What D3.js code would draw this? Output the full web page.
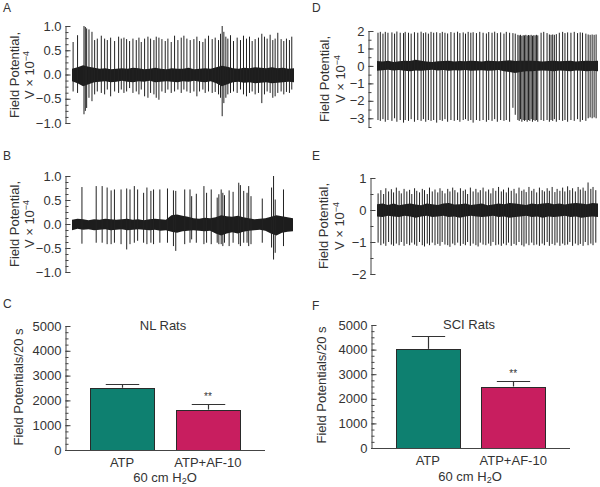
<!DOCTYPE html>
<html>
<head>
<meta charset="utf-8">
<script src="https://cdn.jsdelivr.net/npm/d3@7"></script>
<style>
  html, body { margin: 0; padding: 0; background: #fff; }
  svg { display: block; }
  text { font-family: "Liberation Sans", Arial, sans-serif; fill: #333; }
</style>
</head>
<body>
<div id="chart"></div>
<script>
// ---------------- DATA ----------------
// Sample times (s) of the baseline-noise envelope
const bandTimes = [0,0.5,1,1.5,2,2.5,3,3.5,4,4.5,5,5.5,6,6.5,7,7.5,8,8.5,9,9.5,10,10.5,11,11.5,12,12.5,13,13.5,14,14.5,15,15.5,16,16.5,17,17.5,18,18.5,19,19.5,20];

// Panel A (NL rats, ATP): spikes [time s, peak, trough] in V x 10^-4
const spikesA = [[0.1,0.67,-0.35],[0.5,0.81,-0.38],[1.08,1.0,-0.82],[1.2,0.98,-0.75],[1.32,0.95,-0.69],[1.53,0.93,-0.48],[1.8,0.88,-0.55],[2.04,0.71,-0.41],[2.28,0.74,-0.35],[2.64,0.80,-0.38],[2.94,0.74,-0.41],[3.18,0.71,-0.31],[3.48,0.76,-0.45],[3.84,0.69,-0.35],[4.2,0.78,-0.38],[4.44,0.74,-0.31],[4.68,0.76,-0.38],[4.92,0.73,-0.35],[5.19,0.69,-0.28],[5.49,0.74,-0.38],[5.79,0.71,-0.35],[6.03,0.76,-0.41],[6.24,0.67,-0.31],[6.54,0.74,-0.45],[6.84,0.78,-0.48],[7.08,0.74,-0.38],[7.38,0.71,-0.41],[7.59,0.78,-0.48],[7.83,0.76,-0.52],[8.1,0.73,-0.35],[8.4,0.69,-0.38],[8.64,0.74,-0.31],[8.94,0.67,-0.38],[9.24,0.80,-0.35],[9.54,0.71,-0.31],[9.84,0.76,-0.38],[10.08,0.80,-0.31],[10.35,0.74,-0.35],[10.65,0.71,-0.38],[10.98,0.73,-0.35],[11.25,0.78,-0.45],[11.49,0.69,-0.35],[11.79,0.67,-0.31],[12.0,0.74,-0.38],[12.3,0.80,-0.35],[12.63,0.73,-0.38],[12.9,0.76,-0.36],[13.2,0.71,-0.41],[13.38,0.84,-0.48],[13.53,1.0,-0.86],[13.68,0.88,-0.59],[13.86,0.78,-0.48],[14.04,0.74,-0.41],[14.28,0.81,-0.38],[14.55,0.69,-0.35],[14.88,0.76,-0.38],[15.18,0.71,-0.31],[15.45,0.80,-0.41],[15.72,0.74,-0.45],[15.99,0.78,-0.38],[16.23,0.69,-0.35],[16.5,0.73,-0.41],[16.8,0.76,-0.38],[17.1,0.84,-0.59],[17.34,0.78,-0.41],[17.58,0.74,-0.35],[17.85,0.82,-0.38],[18.09,0.71,-0.48],[18.3,0.74,-0.45],[18.54,0.86,-0.38],[18.84,0.73,-0.35],[19.08,0.69,-0.41],[19.32,0.74,-0.36],[19.59,0.71,-0.38],[19.8,0.78,-0.31]];
const bandHiA = [0.12,0.15,0.19,0.16,0.14,0.12,0.13,0.11,0.12,0.13, 0.12,0.14,0.13,0.11,0.12,0.14,0.12,0.11,0.13,0.12, 0.12,0.14,0.11,0.12,0.13,0.12,0.15,0.18,0.16,0.13, 0.12,0.14,0.13,0.15,0.14,0.13,0.15,0.13,0.14,0.12, 0.13];
const bandLoA = [-0.14,-0.18,-0.24,-0.2,-0.16,-0.15,-0.14,-0.16,-0.15,-0.13, -0.15,-0.16,-0.14,-0.15,-0.13,-0.16,-0.15,-0.14,-0.15,-0.16, -0.14,-0.15,-0.13,-0.15,-0.16,-0.14,-0.18,-0.24,-0.2,-0.16, -0.15,-0.17,-0.16,-0.18,-0.17,-0.16,-0.18,-0.17,-0.16,-0.15, -0.16];

// Panel B (NL rats, ATP + AF-10)
const spikesB = [[0.9,0.77,-0.41],[2.19,0.79,-0.39],[2.73,0.79,-0.39],[3.18,0.76,-0.42],[3.54,0.70,-0.42],[3.84,0.72,-0.39],[4.44,0.72,-0.42],[4.95,0.74,-0.53],[5.25,0.72,-0.42],[5.64,0.79,-0.39],[5.94,0.72,-0.35],[6.48,0.65,-0.39],[6.78,0.76,-0.42],[7.14,0.69,-0.39],[7.38,0.72,-0.42],[7.95,0.72,-0.39],[8.64,0.74,-0.39],[9.18,0.70,-0.46],[9.39,0.69,-0.56],[10.2,0.72,-0.42],[10.68,0.72,-0.39],[10.83,0.58,-0.32],[11.25,0.63,-0.39],[11.94,0.79,-0.42],[12.18,0.65,-0.39],[12.6,0.72,-0.42],[13.14,0.55,-0.39],[13.29,0.62,-0.42],[13.5,0.72,-0.42],[13.65,0.65,-0.46],[13.8,0.60,-0.39],[14.22,0.70,-0.46],[14.58,0.67,-0.39],[15.09,0.86,-0.42],[15.24,0.81,-0.46],[15.54,0.69,-0.39],[15.84,0.65,-0.39],[15.99,0.79,-0.46],[16.2,0.58,-0.42],[17.22,0.53,-0.39],[18.06,0.76,-0.49],[18.24,1.0,-0.74],[18.39,0.51,-0.60],[19.14,0.72,-0.46]];
const bandHiB = [0.09,0.11,0.1,0.08,0.1,0.09,0.11,0.1,0.09,0.1, 0.11,0.09,0.1,0.08,0.1,0.11,0.1,0.09,0.18,0.2, 0.17,0.15,0.12,0.11,0.13,0.12,0.14,0.18,0.16,0.15, 0.17,0.14,0.12,0.1,0.11,0.12,0.15,0.18,0.16,0.14, 0.12];
const bandLoB = [-0.13,-0.1,-0.12,-0.11,-0.13,-0.12,-0.11,-0.13,-0.12,-0.11, -0.13,-0.12,-0.11,-0.12,-0.13,-0.12,-0.14,-0.13,-0.16,-0.18, -0.15,-0.14,-0.13,-0.14,-0.15,-0.14,-0.2,-0.24,-0.2,-0.17, -0.2,-0.16,-0.14,-0.13,-0.12,-0.14,-0.2,-0.24,-0.18,-0.16, -0.15];

// Panel D (SCI rats, ATP)
const spikesD = [[0.09,1.9,-3.1],[0.3,1.95,-3.15],[0.54,1.85,-3.05],[0.75,1.95,-3.2],[0.99,1.9,-3.1],[1.35,1.92,-3.15],[1.59,1.85,-3.0],[1.8,1.97,-3.2],[2.1,1.9,-3.1],[2.4,1.88,-3.25],[2.55,1.95,-3.1],[2.85,1.9,-3.15],[3.09,1.85,-3.05],[3.39,1.93,-3.2],[3.69,1.9,-3.1],[3.99,1.96,-3.15],[4.2,1.88,-3.05],[4.41,1.92,-3.2],[4.65,1.85,-3.1],[4.89,1.95,-3.15],[5.13,1.9,-3.1],[5.4,1.93,-3.25],[5.7,1.88,-3.1],[5.91,1.95,-3.15],[6.15,1.9,-3.05],[6.39,1.86,-3.2],[6.69,1.94,-3.1],[6.99,1.9,-3.15],[7.29,1.96,-3.1],[7.5,1.88,-3.2],[7.8,1.92,-3.1],[8.01,1.85,-3.05],[8.25,1.95,-3.15],[8.49,1.9,-3.1],[8.7,1.93,-3.25],[9.0,1.88,-3.1],[9.3,1.95,-3.15],[9.6,1.9,-3.1],[9.9,1.86,-3.2],[10.11,1.94,-3.1],[10.41,1.9,-3.15],[10.65,1.96,-3.05],[10.89,1.88,-3.2],[11.19,1.92,-3.1],[11.49,1.85,-3.15],[11.7,1.95,-3.1],[12.0,1.9,-3.2],[12.3,1.88,-2.4],[12.51,1.85,-2.8],[12.75,1.78,-3.1],[12.87,1.75,-3.15],[12.99,1.78,-3.05],[13.11,1.72,-3.2],[13.23,1.76,-3.1],[13.35,1.75,-3.15],[13.47,1.78,-3.1],[13.59,1.74,-3.2],[13.71,1.77,-3.1],[13.83,1.75,-3.15],[13.95,1.78,-3.05],[14.07,1.73,-3.2],[14.19,1.76,-3.1],[14.31,1.75,-3.15],[14.43,1.78,-3.1],[14.55,1.75,-3.2],[14.85,1.9,-3.1],[15.09,1.95,-3.15],[15.39,1.88,-3.1],[15.6,1.8,-3.2],[15.75,1.78,-3.1],[15.9,1.8,-3.15],[16.05,1.78,-3.05],[16.23,1.82,-3.2],[16.5,1.9,-3.1],[16.8,1.95,-3.15],[17.01,1.88,-3.1],[17.25,1.92,-3.2],[17.55,1.9,-3.1],[17.85,1.95,-3.15],[18.15,1.88,-3.05],[18.39,1.92,-3.2],[18.6,1.9,-3.1],[18.9,1.85,-3.15],[19.11,1.8,-3.0],[19.29,1.78,-2.95],[19.47,1.8,-3.0],[19.65,1.78,-2.95],[19.83,1.8,-3.0]];
const bandHiD = [0.28,0.25,0.3,0.22,0.26,0.3,0.28,0.35,0.3,0.25, 0.22,0.26,0.28,0.3,0.25,0.28,0.26,0.3,0.28,0.25, 0.3,0.28,0.26,0.3,0.32,0.28,0.3,0.3,0.3,0.28, 0.25,0.28,0.3,0.26,0.28,0.3,0.25,0.28,0.3,0.28, 0.3];
const bandLoD = [-0.28,-0.25,-0.22,-0.26,-0.24,-0.28,-0.3,-0.26,-0.28,-0.25, -0.22,-0.26,-0.24,-0.28,-0.25,-0.26,-0.24,-0.28,-0.26,-0.25, -0.28,-0.26,-0.24,-0.3,-0.35,-0.4,-0.35,-0.3,-0.3,-0.28, -0.26,-0.28,-0.3,-0.26,-0.28,-0.3,-0.26,-0.28,-0.3,-0.28, -0.3];

// Panel E (SCI rats, ATP + AF-10)
const spikesE = [[0.1,0.52,-1.02],[0.35,0.62,-1.1],[0.6,0.5,-1.05],[0.8,0.68,-1.12],[1.05,0.58,-1.0],[1.3,0.65,-1.08],[1.5,0.55,-1.12],[1.75,0.7,-1.05],[2.0,0.6,-1.1],[2.2,0.52,-1.0],[2.45,0.66,-1.12],[2.7,0.58,-1.06],[2.95,0.63,-1.1],[3.15,0.5,-1.02],[3.4,0.68,-1.08],[3.6,0.6,-1.12],[3.85,0.55,-1.0],[4.1,0.66,-1.1],[4.3,0.62,-1.14],[4.55,0.5,-1.05],[4.75,0.7,-1.1],[5.0,0.58,-1.02],[5.25,0.64,-1.1],[5.5,0.55,-1.06],[5.7,0.68,-1.12],[5.9,0.6,-1.0],[6.15,0.52,-1.08],[6.4,0.66,-1.1],[6.6,0.58,-1.15],[6.85,0.7,-1.05],[7.05,0.62,-1.1],[7.3,0.55,-1.02],[7.55,0.68,-1.12],[7.8,0.6,-1.06],[8.0,0.64,-1.1],[8.2,0.5,-1.0],[8.45,0.7,-1.12],[8.7,0.58,-1.05],[8.95,0.66,-1.1],[9.15,0.55,-1.14],[9.35,0.62,-1.02],[9.6,0.7,-1.08],[9.85,0.58,-1.1],[10.1,0.64,-1.05],[10.3,0.52,-1.12],[10.5,0.68,-1.0],[10.75,0.6,-1.1],[11.0,0.72,-1.08],[11.25,0.58,-1.12],[11.45,0.64,-1.05],[11.7,0.55,-1.1],[11.9,0.7,-1.02],[12.15,0.6,-1.12],[12.4,0.66,-1.06],[12.6,0.52,-1.1],[12.85,0.7,-1.0],[13.1,0.6,-1.1],[13.3,0.64,-1.14],[13.5,0.56,-1.05],[13.75,0.72,-1.1],[14.0,0.6,-1.02],[14.2,0.66,-1.1],[14.45,0.55,-1.08],[14.7,0.7,-1.12],[14.95,0.62,-1.05],[15.15,0.58,-1.1],[15.4,0.68,-1.0],[15.6,0.6,-1.12],[15.85,0.72,-1.06],[16.1,0.56,-1.1],[16.3,0.66,-1.02],[16.55,0.6,-1.12],[16.8,0.7,-1.05],[17.0,0.58,-1.1],[17.25,0.74,-1.08],[17.45,0.62,-1.0],[17.7,0.68,-1.12],[17.95,0.58,-1.05],[18.2,0.72,-1.1],[18.4,0.64,-1.06],[18.65,0.7,-1.12],[18.85,0.6,-1.0],[19.1,0.86,-1.1],[19.35,0.66,-1.05],[19.55,0.72,-1.1],[19.8,0.62,-1.02]];
const bandHiE = [0.18,0.2,0.16,0.2,0.15,0.18,0.2,0.17,0.15,0.2, 0.18,0.16,0.2,0.22,0.17,0.18,0.2,0.16,0.18,0.2, 0.15,0.17,0.2,0.18,0.22,0.2,0.18,0.16,0.2,0.18, 0.2,0.22,0.18,0.2,0.17,0.2,0.22,0.2,0.18,0.22, 0.2];
const bandLoE = [-0.2,-0.22,-0.18,-0.2,-0.22,-0.18,-0.2,-0.24,-0.2,-0.18, -0.22,-0.2,-0.18,-0.22,-0.2,-0.24,-0.2,-0.18,-0.2,-0.22, -0.2,-0.18,-0.22,-0.2,-0.24,-0.22,-0.2,-0.18,-0.22,-0.2, -0.24,-0.2,-0.22,-0.2,-0.18,-0.22,-0.2,-0.24,-0.22,-0.2, -0.22];

// Tick labels for trace panels
const ticksAB = [1.0, 0.5, 0.0, -0.5, -1.0];
const ticksD = [2, 1, 0, -1, -2, -3];
const ticksE = [1, 0, -1, -2];

// Bar panels
const barCategories = ["ATP", "ATP+AF-10"];
const nlMeans = [2510, 1630];
const nlErrors = [170, 240];
const sciMeans = [4030, 2500];
const sciErrors = [520, 230];
const barTicks = [0, 1000, 2000, 3000, 4000, 5000];
const barColors = ["#0e8070", "#c81e5f"];

// ---------------- DRAWING ----------------
const W = 600, H = 487;
const FONT = '"Liberation Sans", Arial, sans-serif';
const svg = d3.select("#chart").append("svg").attr("width", W).attr("height", H);
const AX = "#444";

function range(a, b, s) { const r = []; for (let v = a; v <= b + 1e-9; v += s) r.push(+v.toFixed(4)); return r; }

function yAxis(y, axisX, major, minor, fmt) {
  const gMinor = svg.append("g").attr("transform", `translate(${axisX + 0.5},0)`)
    .call(d3.axisLeft(y).tickValues(minor).tickSizeInner(-3).tickSizeOuter(0).tickFormat(""));
  gMinor.select(".domain").remove();
  const gMajor = svg.append("g").attr("transform", `translate(${axisX + 0.5},0)`)
    .call(d3.axisLeft(y).tickValues(major).tickSizeInner(-5).tickSizeOuter(0).tickPadding(4).tickFormat(fmt));
  [gMinor, gMajor].forEach(g => {
    g.attr("font-size", 13).attr("font-family", FONT);
    g.selectAll("path, line").attr("stroke", AX);
    g.selectAll("text").style("font-size", "13px").attr("fill", "#333");
  });
}

function panelLetter(x, y, s) {
  svg.append("text").attr("x", x).attr("y", y).attr("font-size", 12).text(s);
}

function traceYLabel(x1, x2, cy) {
  svg.append("text").attr("transform", `translate(${x1},${cy}) rotate(-90)`)
    .attr("text-anchor", "middle").attr("font-size", 13).text("Field Potential,");
  const t = svg.append("text").attr("transform", `translate(${x2},${cy}) rotate(-90)`)
    .attr("text-anchor", "middle").attr("font-size", 13);
  t.append("tspan").text("V × 10");
  t.append("tspan").attr("dy", -5).attr("font-size", 9).text("−4");
}

function drawTrace(cfg) {
  const g = svg.append("g");
  const x = d3.scaleLinear().domain([0, 20]).range([cfg.x0, cfg.x1]);
  const y = d3.scaleLinear().domain(cfg.yDomain).range([cfg.yBottom, cfg.yTop]);
  const area = d3.area()
    .x((d, i) => x(bandTimes[i]))
    .y0((d, i) => y(cfg.lo[i]))
    .y1((d, i) => y(cfg.hi[i]));
  g.append("path").datum(cfg.hi).attr("d", area).attr("fill", "#1d1d1d");
  g.selectAll("line.spike").data(cfg.spikes).enter().append("line")
    .attr("class", "spike")
    .attr("x1", d => x(d[0])).attr("x2", d => x(d[0]))
    .attr("y1", d => y(d[1])).attr("y2", d => y(d[2]))
    .attr("stroke", "#222").attr("stroke-width", 1);
  yAxis(y, cfg.axisX, cfg.major, cfg.minor, cfg.fmt);
}

drawTrace({ x0: 72, x1: 294, yDomain: [-1, 1], yBottom: 123, yTop: 26, axisX: 65,
  spikes: spikesA, hi: bandHiA, lo: bandLoA, major: ticksAB, minor: range(-1, 1, 0.125), fmt: d3.format(".1f") });
drawTrace({ x0: 72, x1: 293, yDomain: [-1, 1], yBottom: 272, yTop: 176, axisX: 65,
  spikes: spikesB, hi: bandHiB, lo: bandLoB, major: ticksAB, minor: range(-1, 1, 0.125), fmt: d3.format(".1f") });
drawTrace({ x0: 377, x1: 598, yDomain: [-3.5, 2], yBottom: 127, yTop: 31, axisX: 368,
  spikes: spikesD, hi: bandHiD, lo: bandLoD, major: ticksD, minor: range(-3.5, 2, 0.5), fmt: d3.format("d") });
drawTrace({ x0: 377, x1: 598, yDomain: [-2, 1], yBottom: 274, yTop: 178, axisX: 370,
  spikes: spikesE, hi: bandHiE, lo: bandLoE, major: ticksE, minor: range(-2, 1, 0.5), fmt: d3.format("d") });

traceYLabel(19, 34, 75);
traceYLabel(19, 34, 224);
traceYLabel(329, 345, 79);
traceYLabel(328, 344, 226);

panelLetter(3, 12, "A");
panelLetter(3, 160, "B");
panelLetter(3, 308, "C");
panelLetter(312, 12, "D");
panelLetter(312, 160, "E");
panelLetter(312, 310, "F");

function drawBars(cfg) {
  const g = svg.append("g");
  const x = d3.scaleBand().domain(barCategories).range([cfg.axisX, cfg.xEnd]).paddingInner(0.25).paddingOuter(0.29);
  const y = d3.scaleLinear().domain([0, 5000]).range([cfg.y0, cfg.y1]);
  const data = barCategories.map((c, i) => ({ c, m: cfg.means[i], e: cfg.errors[i], col: barColors[i] }));
  const capW = x.bandwidth() * 0.52;
  data.forEach(d => {
    const cx = Math.round(x(d.c) + x.bandwidth() / 2) + 0.5;
    const ty = Math.round(y(d.m + d.e)) + 0.5;
    g.append("line").attr("x1", cx).attr("x2", cx).attr("y1", y(d.m)).attr("y2", ty)
      .attr("stroke", "#333").attr("stroke-width", 1.2);
    g.append("line").attr("x1", cx - capW / 2).attr("x2", cx + capW / 2).attr("y1", ty).attr("y2", ty)
      .attr("stroke", "#333").attr("stroke-width", 1.2);
  });
  g.selectAll("rect").data(data).enter().append("rect")
    .attr("x", d => Math.round(x(d.c)) + 0.5).attr("width", Math.round(x.bandwidth()))
    .attr("y", d => Math.round(y(d.m)) + 0.5).attr("height", d => Math.round(cfg.y0) - Math.round(y(d.m)))
    .attr("fill", d => d.col).attr("stroke", "#2a2a2a").attr("stroke-width", 1);
  g.append("line").attr("x1", cfg.axisX).attr("x2", cfg.xEnd).attr("y1", cfg.y0 + 0.5).attr("y2", cfg.y0 + 0.5)
    .attr("stroke", AX);
  yAxis(y, cfg.axisX, barTicks, range(0, 5000, 250), d3.format("d"));
  const last = data[1];
  svg.append("text").attr("x", x(last.c) + x.bandwidth() / 2).attr("y", y(last.m + last.e) - 4)
    .attr("text-anchor", "middle").attr("font-size", 10).text("**");
  data.forEach(d => {
    svg.append("text").attr("x", x(d.c) + x.bandwidth() / 2).attr("y", cfg.labelY)
      .attr("text-anchor", "middle").attr("font-size", 13).text(d.c);
  });
  svg.append("text").attr("x", cfg.titleX).attr("y", cfg.titleY).attr("text-anchor", "middle")
    .attr("font-size", 13).text(cfg.title);
  const t = svg.append("text").attr("x", cfg.xTitleX).attr("y", cfg.xTitleY).attr("text-anchor", "middle").attr("font-size", 13);
  t.append("tspan").text("60 cm H");
  t.append("tspan").attr("dy", 2).attr("font-size", 9).text("2");
  t.append("tspan").attr("dy", -2).text("O");
  svg.append("text").attr("transform", `translate(${cfg.yTitleX},${cfg.yTitleY}) rotate(-90)`)
    .attr("text-anchor", "middle").attr("font-size", 13).text("Field Potentials/20 s");
}

drawBars({ axisX: 65, xEnd: 265, y0: 450, y1: 326, means: nlMeans, errors: nlErrors,
  labelY: 467, title: "NL Rats", titleX: 163, titleY: 330, xTitleX: 165, xTitleY: 482, yTitleX: 23, yTitleY: 387 });
drawBars({ axisX: 371, xEnd: 570, y0: 448, y1: 325, means: sciMeans, errors: sciErrors,
  labelY: 465, title: "SCI Rats", titleX: 469, titleY: 329, xTitleX: 470, xTitleY: 481, yTitleX: 326, yTitleY: 385 });
</script>
</body>
</html>
